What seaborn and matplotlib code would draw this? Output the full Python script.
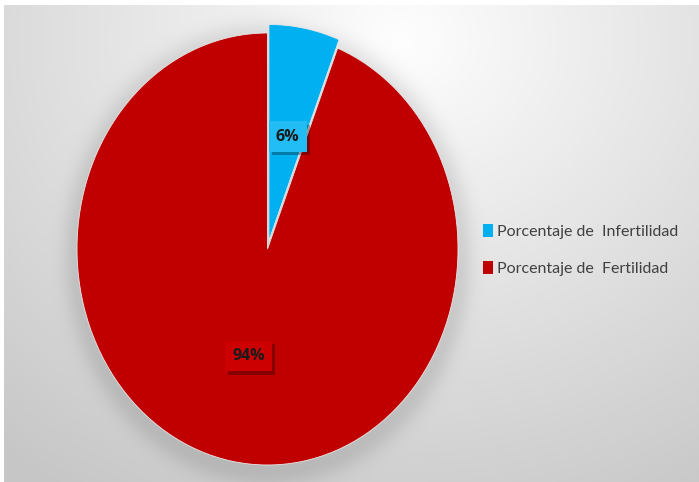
import numpy as np
import matplotlib
matplotlib.use("Agg")
import matplotlib.pyplot as plt
import matplotlib.patheffects as pe
import seaborn as sns

# Chart data
categories = ["Porcentaje de  Infertilidad", "Porcentaje de  Fertilidad"]
percentages = [6, 94]
slice_colors = ["#00B0F0", "#C00000"]

sns.set_theme(style="white")
plt.rcParams["font.family"] = ["Lato", "DejaVu Sans"]

W, H = 699, 482
fig = plt.figure(figsize=(W / 100, H / 100), dpi=100)
fig.patch.set_facecolor("white")

# Background panel: soft radial gradient with a blurred shadow under the pie
bg_ax = fig.add_axes([0, 0, 1, 1])
yy, xx = np.mgrid[0:H, 0:W].astype(float)
d = np.sqrt(((xx - 400) / 560) ** 2 + ((yy - 40) / 480) ** 2)
grey = 254 - 50 * np.clip(d, 0, 1.2)
grey = np.clip(grey, 198, 254)

# pie geometry in pixel space (top-left origin)
cx, cy, rx, ry = 267.5, 249.0, 190.5, 216.0
e = np.sqrt(((xx - cx) / rx) ** 2 + ((yy - cy - 5) / ry) ** 2)
shadow = np.exp(-((np.clip(e - 1.0, 0, None)) / 0.08) ** 2)
grey = grey - 24 * shadow

img = np.dstack([grey, grey, grey]) / 255.0
img[:5, :, :] = 1.0
img[:, :4, :] = 1.0
bg_ax.imshow(img, extent=(0, W, H, 0), aspect="auto", interpolation="bilinear")
bg_ax.set_xlim(0, W)
bg_ax.set_ylim(H, 0)
bg_ax.axis("off")

# Pie axes, stretched so the pie is slightly taller than wide
ax = fig.add_axes([(cx - rx) / W, (H - (cy + ry)) / H, 2 * rx / W, 2 * ry / H])
wedges, texts = ax.pie(
    percentages,
    colors=slice_colors,
    startangle=90,
    counterclock=False,
    explode=[0.04, 0.0],
    wedgeprops=dict(edgecolor="#e8e8e8", linewidth=0.6),
)
for w in wedges:
    w.set_clip_on(False)
ax.set_aspect("auto")
ax.set_xlim(-1, 1)
ax.set_ylim(-1, 1)
ax.axis("off")

# Value labels in small boxes with a drop shadow
label_pos = [(0.105, 0.52), (-0.10, -0.495)]
box_colors = ["#22BDF4", "#CC0000"]
for val, (lx, ly), bc in zip(percentages, label_pos, box_colors):
    t = ax.text(lx, ly, f"{val}%", ha="center", va="center",
                fontsize=11.5, fontweight="bold", color="#1a1a1a",
                family=["Open Sans", "DejaVu Sans"],
                bbox=dict(boxstyle="square,pad=0.45", facecolor=bc, edgecolor="none"))
    t.get_bbox_patch().set_path_effects([
        pe.SimplePatchShadow(offset=(2.5, -2.5), shadow_rgbFace="black", alpha=0.3),
        pe.Normal(),
    ])

# Legend on the right
handles = [plt.Rectangle((0, 0), 1, 1, facecolor=c, edgecolor="none") for c in slice_colors]
fig.legend(handles, categories, loc="upper left", bbox_to_anchor=(469 / W, 1 - 210 / H),
           frameon=False, fontsize=11.5, handlelength=0.6, handleheight=0.8,
           handletextpad=0.25, labelspacing=1.4, labelcolor="#404040")

fig.savefig("out.png", dpi=100)
